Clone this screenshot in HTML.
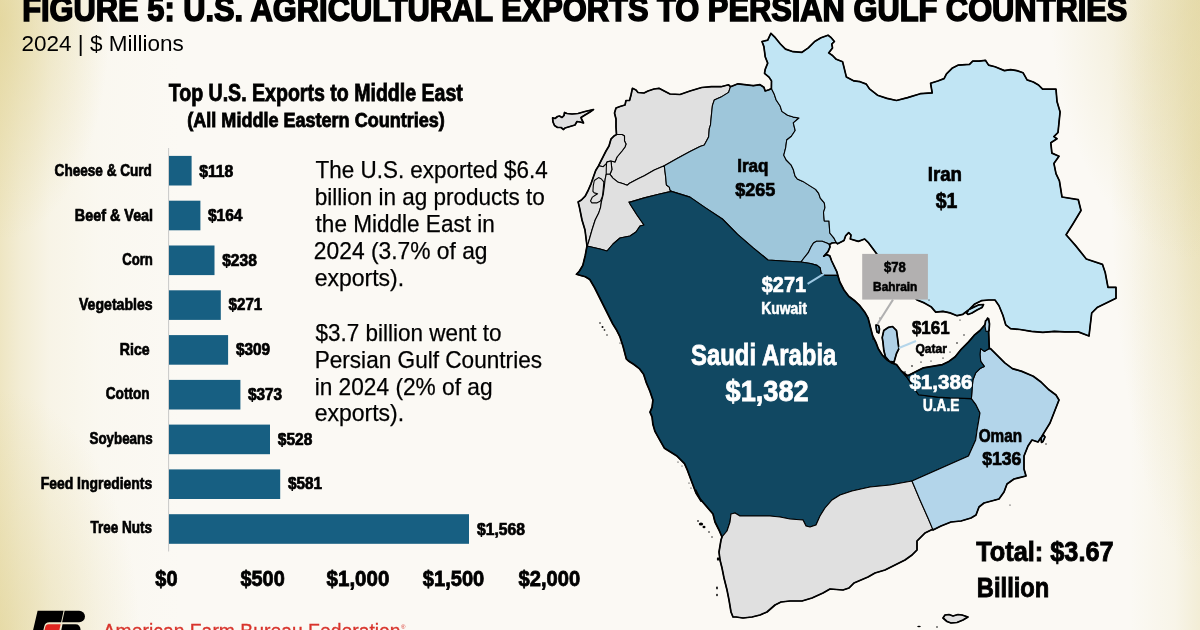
<!DOCTYPE html>
<html><head><meta charset="utf-8"><style>
html,body{margin:0;padding:0;}
body{width:1200px;height:630px;overflow:hidden;position:relative;background:#fbf9f4;font-family:"Liberation Sans",Arial,sans-serif;}
#bg{position:absolute;left:0;top:0;width:1200px;height:630px;
background:
 radial-gradient(ellipse 110px 220px at 0px 20px, rgba(222,207,138,0.6), rgba(222,207,138,0) 100%),
 radial-gradient(ellipse 140px 250px at 0px 640px, rgba(222,207,138,0.5), rgba(222,207,138,0) 100%),
 linear-gradient(to right, rgba(225,210,145,0.5) 0px, rgba(225,210,145,0.32) 20px, rgba(228,215,155,0.15) 50px, rgba(232,220,165,0.05) 100px, rgba(232,220,165,0) 180px),
 radial-gradient(ellipse 150px 260px at 1200px 0px, rgba(222,208,145,0.5), rgba(222,208,145,0) 100%),
 radial-gradient(ellipse 90px 420px at 1200px 150px, rgba(222,208,145,0.45), rgba(222,208,145,0) 100%),
 linear-gradient(to left, rgba(225,212,150,0.32) 0px, rgba(225,212,150,0.12) 25px, rgba(225,212,150,0) 70px),
 #fbf9f4;}
</style></head><body>
<div id="bg"></div>
<svg width="1200" height="630" viewBox="0 0 1200 630" style="position:absolute;left:0;top:0" font-family="Liberation Sans, Arial, sans-serif"><g stroke="#000" stroke-width="1.1" stroke-linejoin="round"><path d="M552.6,117.9 L555.0,118.5 L557.5,116.5 L559.5,116.0 L562.0,117.5 L564.0,115.5 L564.5,112.5 L567.0,113.5 L572.0,114.0 L578.0,113.5 L585.0,111.5 L593.5,109.5 L590.0,112.0 L584.0,115.5 L581.0,117.5 L581.5,119.0 L583.5,123.0 L580.0,122.0 L577.0,121.5 L575.0,125.0 L570.0,126.5 L565.0,128.0 L563.5,129.5 L561.0,127.5 L557.5,127.5 L554.5,125.5 L553.0,122.0 Z" fill="#e0e0e0"/><path d="M632.4,88.3 L636.0,90.0 L638.0,92.5 L644.0,93.0 L648.0,91.0 L654.0,89.0 L659.0,88.3 L666.0,92.0 L670.0,94.0 L680.0,94.5 L690.0,91.0 L701.7,87.5 L711.4,86.7 L721.0,86.7 L728.6,84.8 L730.5,86.7 L728.6,92.4 L721.0,97.1 L714.3,100.0 L712.4,105.7 L711.4,115.2 L710.5,124.8 L709.3,128.6 L708.6,137.1 L704.3,145.0 L700.0,146.4 L690.0,151.4 L677.1,158.6 L664.3,165.7 L654.3,170.0 L644.3,175.7 L638.6,178.6 L635.7,180.0 L630.0,182.9 L627.1,185.2 L623.3,183.8 L617.6,181.9 L612.9,178.1 L610.0,174.3 L611.9,169.5 L611.0,161.0 L615.0,162.0 L617.0,157.0 L622.0,151.0 L625.0,147.0 L626.0,144.0 L624.5,141.0 L624.5,136.0 L622.0,134.5 L616.5,134.5 L616.0,127.0 L616.0,119.0 L614.5,113.0 L616.0,108.0 L620.0,106.5 L625.0,105.0 L626.0,100.5 L629.5,100.5 L630.0,99.0 L631.0,95.0 Z" fill="#e0e0e0"/><path d="M616.5,134.5 L622.0,134.5 L624.5,136.0 L624.5,141.0 L626.0,144.0 L625.0,147.0 L622.0,151.0 L617.0,157.0 L615.0,162.0 L611.0,161.0 L607.1,161.9 L606.2,163.8 L603.3,166.7 L598.6,165.7 L601.4,160.0 L603.0,157.0 L606.0,151.0 L609.0,146.0 L611.0,139.0 L614.0,136.0 Z" fill="#e0e0e0"/><path d="M598.6,165.7 L603.3,166.7 L606.2,163.8 L607.1,161.9 L611.0,161.0 L611.9,169.5 L610.0,174.3 L606.2,174.3 L605.2,179.0 L604.3,186.7 L603.3,194.3 L601.4,201.9 L600.5,207.6 L598.6,213.3 L596.7,217.1 L595.2,220.0 L592.0,230.0 L588.0,244.0 L587.0,246.0 L585.0,230.0 L582.0,220.0 L581.4,217.1 L579.5,207.6 L578.1,201.9 L581.4,200.0 L585.2,196.2 L588.1,190.5 L591.0,183.8 L593.3,177.1 L595.7,170.5 Z" fill="#e0e0e0"/><path d="M610.0,174.3 L612.9,178.1 L617.6,181.9 L623.3,183.8 L627.1,185.2 L630.0,182.9 L635.7,180.0 L638.6,178.6 L644.3,175.7 L654.3,170.0 L664.3,165.7 L665.7,177.1 L666.4,185.0 L669.3,187.1 L670.0,190.0 L671.4,191.4 L658.6,194.3 L644.3,197.9 L630.0,202.1 L629.0,202.0 L630.0,204.0 L637.0,215.0 L644.0,225.0 L640.0,226.0 L636.0,232.0 L630.0,236.0 L620.0,238.0 L613.0,244.0 L607.0,251.0 L600.0,249.0 L587.0,246.0 L588.0,244.0 L592.0,230.0 L595.2,220.0 L596.7,217.1 L598.6,213.3 L600.5,207.6 L601.4,201.9 L603.3,194.3 L604.3,186.7 L605.2,179.0 L606.2,174.3 Z" fill="#e0e0e0"/><path d="M594.3,180.5 L598.6,177.6 L601.4,179.0 L603.8,181.9 L603.3,188.6 L602.4,196.2 L600.5,201.0 L596.7,202.9 L591.9,202.9 L590.5,201.0 L592.4,197.1 L595.2,195.2 L597.6,193.8 L594.3,192.9 L592.9,191.4 L593.3,185.7 Z" fill="#e0e0e0"/><path d="M730.5,86.7 L738.0,83.8 L745.7,84.8 L753.3,85.7 L760.0,84.7 L763.9,87.2 L765.2,91.0 L769.0,89.7 L771.4,88.6 L774.3,94.3 L776.2,100.0 L780.0,105.7 L781.9,111.4 L787.6,115.2 L793.3,117.1 L799.0,118.0 L793.3,122.9 L795.2,130.5 L791.4,136.2 L786.7,140.0 L785.7,147.6 L783.8,155.2 L786.2,160.0 L791.0,164.8 L793.3,169.5 L795.0,175.9 L797.3,179.0 L802.9,181.4 L809.2,185.4 L815.6,189.4 L818.7,193.3 L820.3,198.1 L824.3,202.9 L825.0,207.6 L823.5,212.4 L824.3,221.0 L829.0,221.0 L829.8,233.0 L833.8,237.8 L836.2,242.5 L832.0,243.0 L829.5,244.5 L827.3,243.2 L822.2,241.3 L816.5,241.3 L813.5,243.0 L811.0,247.0 L808.3,252.7 L804.0,258.0 L801.0,262.0 L783.3,261.0 L768.0,260.0 L752.9,247.6 L737.6,234.3 L722.4,219.0 L705.2,207.6 L690.0,197.1 L671.4,191.4 L670.0,190.0 L669.3,187.1 L666.4,185.0 L665.7,177.1 L664.3,165.7 L677.1,158.6 L690.0,151.4 L700.0,146.4 L704.3,145.0 L708.6,137.1 L709.3,128.6 L710.5,124.8 L711.4,115.2 L712.4,105.7 L714.3,100.0 L721.0,97.1 L728.6,92.4 Z" fill="#9ec6da"/><path d="M801.0,262.0 L804.0,258.0 L808.3,252.7 L811.0,247.0 L813.5,243.0 L816.5,241.3 L822.2,241.3 L827.3,243.2 L829.5,244.5 L830.0,247.0 L828.0,251.7 L823.5,256.5 L826.7,254.6 L829.8,255.9 L831.7,261.0 L834.3,266.7 L836.8,271.7 L837.8,275.4 L825.4,275.4 L821.0,273.0 L820.3,268.0 L817.1,265.4 L810.6,263.5 Z" fill="#a6cde3"/><path d="M762.0,41.5 L767.7,40.2 L770.9,33.3 L775.3,37.7 L780.4,44.0 L785.5,49.1 L793.1,51.7 L802.0,52.3 L808.3,47.9 L814.7,41.5 L821.0,37.7 L828.0,35.2 L831.2,37.7 L834.4,41.5 L831.8,44.0 L832.5,47.9 L828.7,52.9 L832.5,55.5 L836.3,59.3 L842.6,61.8 L843.9,66.9 L846.4,77.1 L854.0,80.9 L860.0,81.7 L866.3,84.1 L869.5,88.9 L877.5,95.2 L887.0,98.4 L896.5,100.5 L907.6,97.6 L920.3,93.7 L932.2,92.9 L930.6,83.3 L937.8,81.0 L944.1,78.6 L946.5,73.8 L952.0,68.3 L958.4,65.1 L969.5,64.3 L972.7,61.1 L979.0,61.1 L985.4,60.3 L988.6,65.1 L995.0,66.7 L1004.4,70.6 L1010.6,69.6 L1016.8,70.6 L1023.0,72.7 L1027.1,79.9 L1033.3,82.0 L1038.5,85.0 L1042.6,89.2 L1056.0,89.2 L1057.0,101.5 L1060.1,111.9 L1059.0,122.2 L1058.0,132.5 L1053.9,136.6 L1057.0,138.7 L1050.8,142.8 L1051.9,153.1 L1059.0,156.2 L1053.9,163.4 L1056.0,173.7 L1059.4,180.8 L1062.0,197.0 L1078.3,199.7 L1081.0,210.5 L1072.9,224.0 L1066.1,234.8 L1075.6,245.6 L1086.3,259.0 L1102.5,264.4 L1105.2,272.5 L1108.0,287.4 L1116.0,287.4 L1116.0,298.2 L1108.0,302.2 L1097.1,307.6 L1091.7,313.0 L1090.4,323.8 L1089.0,336.0 L1078.3,331.9 L1064.8,331.9 L1054.3,331.4 L1042.9,332.4 L1031.4,331.4 L1020.0,329.5 L1010.5,328.6 L1005.7,324.8 L1002.9,315.2 L999.0,305.7 L995.0,300.0 L988.6,300.0 L981.4,300.7 L974.3,304.3 L968.6,310.0 L962.9,314.3 L957.1,315.7 L950.0,312.9 L942.9,311.4 L935.7,312.1 L931.4,307.1 L924.3,302.9 L917.1,300.0 L910.0,293.0 L900.0,280.0 L885.0,265.0 L876.4,253.6 L872.9,248.6 L868.6,242.9 L864.6,239.0 L858.3,241.4 L850.3,239.0 L851.0,235.0 L848.7,232.7 L845.6,235.9 L844.0,240.6 L837.6,243.8 L836.2,242.5 L833.8,237.8 L829.8,233.0 L829.0,221.0 L824.3,221.0 L823.5,212.4 L825.0,207.6 L824.3,202.9 L820.3,198.1 L818.7,193.3 L815.6,189.4 L809.2,185.4 L802.9,181.4 L797.3,179.0 L795.0,175.9 L793.3,169.5 L791.0,164.8 L786.2,160.0 L783.8,155.2 L785.7,147.6 L786.7,140.0 L791.4,136.2 L795.2,130.5 L793.3,122.9 L799.0,118.0 L793.3,117.1 L787.6,115.2 L781.9,111.4 L780.0,105.7 L776.2,100.0 L774.3,94.3 L771.4,88.6 L771.5,80.9 L769.0,77.1 L764.5,73.3 L765.2,69.4 L767.7,63.1 L765.2,56.7 L763.9,46.6 Z" fill="#c1e5f4"/><path d="M629.0,202.0 L630.0,202.1 L644.3,197.9 L658.6,194.3 L671.4,191.4 L690.0,197.1 L705.2,207.6 L722.4,219.0 L737.6,234.3 L752.9,247.6 L768.0,260.0 L783.3,261.0 L801.0,262.0 L810.6,263.5 L817.1,265.4 L820.3,268.0 L821.0,273.0 L825.4,275.4 L837.8,275.4 L839.8,282.0 L844.0,290.0 L848.7,296.2 L855.0,301.0 L859.8,305.7 L864.8,312.2 L868.0,317.8 L869.5,323.3 L871.0,329.7 L872.7,336.0 L875.9,342.4 L878.3,348.7 L882.2,355.0 L887.0,359.8 L891.7,363.0 L896.5,364.6 L901.3,371.0 L907.5,378.1 L913.8,387.6 L918.6,394.8 L937.6,397.1 L950.0,397.9 L971.4,398.6 L975.7,404.3 L980.0,412.9 L978.6,421.4 L977.1,430.0 L975.7,440.0 L968.5,456.0 L912.0,481.0 L890.0,485.0 L870.0,487.0 L852.0,491.0 L840.0,495.0 L832.0,500.0 L825.0,508.0 L820.0,516.0 L816.0,525.0 L810.0,527.0 L806.0,526.0 L803.0,520.0 L790.0,519.0 L780.0,517.0 L770.0,516.0 L750.0,516.0 L740.0,516.0 L735.0,513.0 L731.0,514.0 L730.0,522.0 L727.0,531.0 L722.0,537.0 L719.0,530.0 L715.0,522.0 L713.0,514.0 L707.0,507.0 L701.0,500.0 L696.0,490.0 L701.0,501.0 L696.0,493.0 L693.1,485.5 L690.2,477.9 L687.4,470.2 L684.5,463.6 L680.7,459.8 L676.9,456.0 L670.2,451.7 L664.5,448.3 L660.7,441.7 L656.9,435.0 L655.0,431.4 L652.9,424.3 L652.1,417.1 L650.0,412.1 L652.1,407.1 L652.9,400.0 L650.0,391.4 L646.4,382.9 L643.6,374.3 L639.3,368.6 L633.6,364.3 L628.5,361.0 L626.3,358.9 L623.0,346.2 L619.9,336.7 L616.7,330.3 L612.8,324.0 L608.8,316.0 L604.0,306.5 L599.3,297.0 L594.5,287.5 L589.8,279.5 L585.3,276.8 L580.2,275.5 L576.4,274.3 L579.0,271.7 L582.8,265.4 L585.3,255.2 L587.0,246.0 L600.0,249.0 L607.0,251.0 L613.0,244.0 L620.0,238.0 L630.0,236.0 L636.0,232.0 L640.0,226.0 L644.0,225.0 L637.0,215.0 L630.0,204.0 Z" fill="#114862"/><path d="M722.0,537.0 L727.0,531.0 L730.0,522.0 L731.0,514.0 L735.0,513.0 L740.0,516.0 L750.0,516.0 L770.0,516.0 L780.0,517.0 L790.0,519.0 L803.0,520.0 L806.0,526.0 L810.0,527.0 L816.0,525.0 L820.0,516.0 L825.0,508.0 L832.0,500.0 L840.0,495.0 L852.0,491.0 L870.0,487.0 L890.0,485.0 L912.0,481.0 L920.0,500.0 L928.0,518.0 L933.0,529.0 L925.0,533.0 L917.0,541.0 L917.0,550.0 L912.0,555.0 L905.0,560.0 L895.0,565.0 L885.0,570.0 L875.0,573.0 L868.0,577.0 L854.0,583.0 L849.0,588.0 L843.0,590.0 L830.0,589.0 L823.0,593.0 L812.0,598.0 L802.0,601.0 L790.0,601.0 L781.0,602.0 L775.0,605.0 L767.0,612.0 L760.0,615.0 L752.0,617.0 L743.0,618.0 L736.0,617.0 L733.0,617.0 L731.0,612.0 L729.0,600.0 L727.0,590.0 L724.0,578.0 L722.0,568.0 L720.0,560.0 L719.0,552.0 L721.0,540.0 Z" fill="#e0e0e0"/><path d="M971.4,398.6 L972.1,388.6 L972.9,380.0 L975.7,372.9 L980.0,368.6 L984.3,366.4 L980.7,361.4 L980.0,354.3 L980.7,348.6 L984.3,351.4 L989.3,348.6 L990.5,348.6 L997.0,355.2 L1004.8,362.9 L1012.4,368.6 L1021.9,371.4 L1033.3,376.2 L1041.0,382.0 L1048.6,389.5 L1056.0,395.0 L1059.0,400.0 L1057.0,405.0 L1050.0,423.0 L1042.0,436.0 L1038.0,442.0 L1032.0,440.0 L1028.0,446.0 L1024.0,456.0 L1024.0,469.0 L1026.0,476.0 L1014.0,479.0 L1007.0,484.0 L1004.0,492.0 L999.0,499.0 L984.0,503.0 L979.0,507.0 L976.0,515.0 L971.0,518.0 L961.0,521.0 L951.0,522.0 L941.0,526.0 L933.0,530.0 L928.0,518.0 L920.0,500.0 L912.0,481.0 L968.5,456.0 L975.7,440.0 L977.1,430.0 L978.6,421.4 L980.0,412.9 L975.7,404.3 Z" fill="#b3d5ea"/><path d="M901.3,371.0 L907.6,375.7 L914.0,372.5 L923.5,367.8 L933.0,366.2 L942.5,364.6 L948.9,361.4 L955.2,356.7 L961.0,349.5 L968.6,341.9 L974.3,335.2 L980.0,330.5 L984.8,324.8 L987.6,318.0 L988.6,330.5 L989.3,348.6 L984.3,351.4 L980.7,348.6 L980.0,354.3 L980.7,361.4 L984.3,366.4 L980.0,368.6 L975.7,372.9 L972.9,380.0 L972.1,388.6 L971.4,398.6 L950.0,397.9 L937.6,397.1 L918.6,394.8 L913.8,387.6 L907.5,378.1 Z" fill="#114862"/><path d="M985.5,321.0 L988.5,318.5 L989.5,324.0 L989.0,331.0 L986.0,331.5 L985.0,326.0 Z" fill="#b3d5ea"/><path d="M883.8,330.5 L888.6,327.3 L892.5,326.5 L896.5,330.5 L897.3,336.0 L898.0,342.4 L898.9,348.7 L896.5,353.5 L895.0,358.3 L894.0,362.2 L889.4,361.4 L885.4,356.7 L883.8,350.3 L883.0,342.4 L882.2,337.6 Z" fill="#b0d1e7"/><path d="M876.0,325.0 L878.5,325.5 L879.5,329.0 L878.8,333.0 L877.0,332.0 L876.3,328.5 Z" fill="#b0d1e7"/><path d="M966.5,313.0 L969.0,309.5 L974.0,307.0 L979.0,304.8 L983.5,304.5 L982.0,307.5 L977.0,310.0 L972.0,313.0 L968.0,314.5 Z" fill="#c1e5f4"/><path d="M943.0,618.0 L945.0,615.0 L949.0,614.5 L953.0,616.0 L958.0,614.5 L962.0,615.0 L968.0,617.0 L963.0,620.0 L957.0,622.5 L951.0,623.0 L947.0,621.5 Z" fill="#e0e0e0"/><path d="M1041.0,438.0 L1043.5,435.0 L1045.0,437.0 L1043.0,441.5 L1041.5,442.5 Z" fill="#b3d5ea"/></g><path d="M587.0,246.0 L585.3,255.2 L582.8,265.4 L579.0,271.7 L576.4,274.3 L585.3,276.8 L589.8,279.5 L594.5,287.5 L612.8,324.0 L616.7,330.3 L619.9,336.7 L623.0,346.2 L626.3,358.9 L628.5,361.0 L633.6,364.3 L639.3,368.6 L643.6,374.3 L646.4,382.9 L650.0,391.4 L652.9,400.0 L652.1,407.1 L650.0,412.1 L652.1,417.1 L652.9,424.3 L655.0,431.4 L660.7,441.7 L664.5,448.3 L676.9,456.0 L684.5,463.6 L687.4,470.2 L696.0,493.0 L701.0,501.0 L700.3,499.6 L700.5,499.4 L713.0,514.0 L715.0,522.0 L719.0,530.0 L722.0,537.0 L721.0,540.0 L719.0,552.0 L720.0,560.0 L722.0,568.0 L724.0,578.0 L727.0,590.0 L729.0,600.0 L731.0,612.0 L733.0,617.0 L736.0,617.0 L743.0,618.0 L752.0,617.0 L760.0,615.0 L767.0,612.0 L775.0,605.0 L781.0,602.0 L790.0,601.0 L802.0,601.0 L812.0,598.0 L823.0,593.0 L830.0,589.0 L843.0,590.0 L849.0,588.0 L854.0,583.0 L868.0,577.0 L875.0,573.0 L885.0,570.0 L905.0,560.0 L912.0,555.0 L917.0,550.0 L917.0,541.0 L925.0,533.0 L932.7,529.2 L933.0,530.0 L941.0,526.0 L951.0,522.0 L961.0,521.0 L971.0,518.0 L976.0,515.0 L979.0,507.0 L984.0,503.0 L999.0,499.0 L1004.0,492.0 L1007.0,484.0 L1014.0,479.0 L1026.0,476.0 L1024.0,469.0 L1024.0,456.0 L1028.0,446.0 L1032.0,440.0 L1038.0,442.0 L1041.0,437.6 L1041.5,442.5 L1043.0,441.5 L1045.0,437.0 L1043.5,435.0 L1042.1,436.6 L1041.8,436.4 L1050.0,423.0 L1059.0,400.0 L1056.0,395.0 L1048.6,389.5 L1041.0,382.0 L1033.3,376.2 L1021.9,371.4 L1012.4,368.6 L1004.8,362.9 L990.5,348.6 L989.3,348.6 L988.6,331.1 L989.0,331.0 L989.5,324.0 L988.5,318.5 L987.7,319.2 L987.6,318.0 L986.8,319.9 L985.5,321.0 L985.2,323.8 L984.8,324.8 L980.0,330.5 L974.3,335.2 L968.6,341.9 L961.0,349.5 L955.2,356.7 L948.9,361.4 L942.5,364.6 L923.5,367.8 L907.6,375.7 L901.3,371.0 L896.5,364.6 L891.7,363.0 L889.3,361.4 L894.0,362.2 L896.5,353.5 L898.9,348.7 L896.5,330.5 L892.5,326.5 L888.6,327.3 L883.8,330.5 L882.2,337.6 L883.0,342.4 L883.8,350.3 L885.4,356.7 L888.9,360.8 L888.7,361.0 L887.0,359.8 L882.2,355.0 L878.3,348.7 L875.9,342.4 L872.7,336.0 L868.0,317.8 L864.8,312.2 L859.8,305.7 L855.0,301.0 L848.7,296.2 L844.0,290.0 L839.8,282.0 L836.8,271.7 L831.7,261.0 L829.8,255.9 L826.7,254.6 L824.1,256.1 L824.0,256.0 L828.0,251.7 L830.0,247.0 L829.5,244.5 L832.0,243.0 L836.2,242.5 L837.6,243.8 L844.0,240.6 L845.6,235.9 L848.7,232.7 L851.0,235.0 L850.3,239.0 L858.3,241.4 L864.6,239.0 L868.6,242.9 L885.0,265.0 L900.0,280.0 L910.0,293.0 L917.1,300.0 L924.3,302.9 L931.4,307.1 L935.7,312.1 L942.9,311.4 L950.0,312.9 L957.1,315.7 L962.9,314.3 L968.2,310.3 L968.4,310.4 L966.5,313.0 L968.0,314.5 L972.0,313.0 L977.0,310.0 L982.0,307.5 L983.5,304.5 L979.0,304.8 L969.6,309.2 L974.3,304.3 L981.4,300.7 L988.6,300.0 L995.0,300.0 L999.0,305.7 L1002.9,315.2 L1005.7,324.8 L1010.5,328.6 L1020.0,329.5 L1031.4,331.4 L1042.9,332.4 L1054.3,331.4 L1064.8,331.9 L1078.3,331.9 L1089.0,336.0 L1091.7,313.0 L1097.1,307.6 L1116.0,298.2 L1116.0,287.4 L1108.0,287.4 L1105.2,272.5 L1102.5,264.4 L1086.3,259.0 L1075.6,245.6 L1066.1,234.8 L1072.9,224.0 L1081.0,210.5 L1078.3,199.7 L1062.0,197.0 L1059.4,180.8 L1056.0,173.7 L1053.9,163.4 L1059.0,156.2 L1051.9,153.1 L1050.8,142.8 L1057.0,138.7 L1053.9,136.6 L1058.0,132.5 L1060.1,111.9 L1057.0,101.5 L1056.0,89.2 L1042.6,89.2 L1038.5,85.0 L1033.3,82.0 L1027.1,79.9 L1023.0,72.7 L1016.8,70.6 L1010.6,69.6 L1004.4,70.6 L995.0,66.7 L988.6,65.1 L985.4,60.3 L979.0,61.1 L972.7,61.1 L969.5,64.3 L958.4,65.1 L952.0,68.3 L946.5,73.8 L944.1,78.6 L937.8,81.0 L930.6,83.3 L932.2,92.9 L920.3,93.7 L907.6,97.6 L896.5,100.5 L887.0,98.4 L877.5,95.2 L869.5,88.9 L866.3,84.1 L860.0,81.7 L854.0,80.9 L846.4,77.1 L842.6,61.8 L836.3,59.3 L832.5,55.5 L828.7,52.9 L832.5,47.9 L831.8,44.0 L834.4,41.5 L831.2,37.7 L828.0,35.2 L821.0,37.7 L814.7,41.5 L808.3,47.9 L802.0,52.3 L793.1,51.7 L785.5,49.1 L780.4,44.0 L775.3,37.7 L770.9,33.3 L767.7,40.2 L762.0,41.5 L763.9,46.6 L765.2,56.7 L767.7,63.1 L765.2,69.4 L764.5,73.3 L769.0,77.1 L771.5,80.9 L771.4,88.6 L769.0,89.7 L765.2,91.0 L763.9,87.2 L760.0,84.7 L753.3,85.7 L738.0,83.8 L730.5,86.7 L728.6,84.8 L721.0,86.7 L711.4,86.7 L701.7,87.5 L690.0,91.0 L680.0,94.5 L670.0,94.0 L659.0,88.3 L654.0,89.0 L648.0,91.0 L644.0,93.0 L638.0,92.5 L636.0,90.0 L632.4,88.3 L631.0,95.0 L629.5,100.5 L626.0,100.5 L625.0,105.0 L620.0,106.5 L616.0,108.0 L614.5,113.0 L616.0,119.0 L616.0,127.0 L616.5,134.5 L614.0,136.0 L611.0,139.0 L609.0,146.0 L606.0,151.0 L598.6,165.7 L595.7,170.5 L591.0,183.8 L588.1,190.5 L585.2,196.2 L581.4,200.0 L578.1,201.9 L579.5,207.6 L582.0,220.0 L585.0,230.0 L587.0,246.0 Z M968.0,617.0 L962.0,615.0 L958.0,614.5 L953.0,616.0 L949.0,614.5 L945.0,615.0 L943.0,618.0 L947.0,621.5 L951.0,623.0 L957.0,622.5 L963.0,620.0 L968.0,617.0 Z M878.5,325.5 L876.0,325.0 L876.3,328.5 L877.0,332.0 L878.8,333.0 L879.5,329.0 L878.5,325.5 Z M561.0,127.5 L563.5,129.5 L565.0,128.0 L575.0,125.0 L577.0,121.5 L580.0,122.0 L583.5,123.0 L581.5,119.0 L581.0,117.5 L590.0,112.0 L593.5,109.5 L585.0,111.5 L578.0,113.5 L572.0,114.0 L567.0,113.5 L564.5,112.5 L564.0,115.5 L562.0,117.5 L559.5,116.0 L557.5,116.5 L555.0,118.5 L552.6,117.9 L553.0,122.0 L554.5,125.5 L557.5,127.5 L561.0,127.5 Z" fill="none" stroke="#000" stroke-width="1.7" stroke-linejoin="round"/><ellipse cx="701" cy="524" rx="2.2" ry="1.6" fill="#000"/><ellipse cx="704" cy="527" rx="1.5" ry="1.2" fill="#000"/><ellipse cx="698" cy="521" rx="1" ry="0.8" fill="#000"/><ellipse cx="709" cy="532" rx="0.8" ry="0.8" fill="#000"/><ellipse cx="712" cy="537" rx="0.7" ry="0.7" fill="#000"/><ellipse cx="718" cy="559" rx="1.2" ry="1.8" fill="#000"/><ellipse cx="717" cy="588" rx="0.9" ry="1.4" fill="#000"/><ellipse cx="717" cy="595" rx="0.8" ry="1.2" fill="#000"/><ellipse cx="691" cy="488" rx="0.6" ry="0.6" fill="#000"/><ellipse cx="689" cy="483" rx="0.6" ry="0.6" fill="#000"/><ellipse cx="905" cy="372" rx="0.8" ry="0.8" fill="#000"/><ellipse cx="912" cy="366" rx="0.9" ry="0.7" fill="#000"/><ellipse cx="921" cy="362" rx="0.8" ry="0.6" fill="#000"/><ellipse cx="931" cy="361" rx="0.7" ry="0.6" fill="#000"/><ellipse cx="943" cy="358" rx="0.8" ry="0.6" fill="#000"/><ellipse cx="950" cy="352" rx="0.7" ry="0.6" fill="#000"/><ellipse cx="957" cy="343" rx="0.8" ry="0.7" fill="#000"/><ellipse cx="964" cy="335" rx="0.7" ry="0.7" fill="#000"/><ellipse cx="873" cy="339" rx="0.8" ry="0.8" fill="#000"/><ellipse cx="880" cy="318" rx="0.6" ry="0.6" fill="#000"/><ellipse cx="960" cy="320" rx="0.7" ry="0.6" fill="#000"/><ellipse cx="929" cy="300" rx="0.7" ry="0.6" fill="#000"/><ellipse cx="1046" cy="444" rx="0.7" ry="0.7" fill="#000"/><ellipse cx="1010" cy="505" rx="0.6" ry="0.6" fill="#000"/><ellipse cx="995" cy="500" rx="0.7" ry="0.6" fill="#000"/><ellipse cx="919" cy="626.5" rx="1.8" ry="0.7" fill="#000"/><ellipse cx="937" cy="627" rx="0.8" ry="0.7" fill="#000"/><ellipse cx="600" cy="323" rx="0.8" ry="0.8" fill="#000"/><ellipse cx="602.5" cy="327" rx="1" ry="0.9" fill="#000"/><ellipse cx="604.5" cy="330" rx="0.9" ry="0.8" fill="#000"/><ellipse cx="607" cy="335" rx="0.7" ry="0.7" fill="#000"/><ellipse cx="620" cy="343" rx="0.6" ry="0.6" fill="#000"/><ellipse cx="678" cy="462" rx="0.6" ry="0.6" fill="#000"/><ellipse cx="682" cy="466" rx="0.5" ry="0.5" fill="#000"/><polyline points="606.6,162.3 606.3,168 606.2,174.3" fill="none" stroke="#000" stroke-width="1.1"/><line x1="807.6" y1="283.8" x2="824.2" y2="273.7" stroke="#9fc9e4" stroke-width="2"/><line x1="898.9" y1="348" x2="916" y2="341" stroke="#b5d6ea" stroke-width="2"/><line x1="893" y1="299.6" x2="877.5" y2="324" stroke="#b0b0b0" stroke-width="2"/><rect x="862.2" y="253.9" width="65.7" height="45.7" fill="#b2b0b0"/><line x1="168.6" y1="148" x2="168.6" y2="551.5" stroke="#c8c8c8" stroke-width="1"/><rect x="169" y="155.9" width="22.6" height="29.6" fill="#175f82"/><rect x="169" y="200.7" width="31.4" height="29.6" fill="#175f82"/><rect x="169" y="245.5" width="45.5" height="29.6" fill="#175f82"/><rect x="169" y="290.3" width="51.8" height="29.6" fill="#175f82"/><rect x="169" y="335.1" width="59.1" height="29.6" fill="#175f82"/><rect x="169" y="379.9" width="71.4" height="29.6" fill="#175f82"/><rect x="169" y="424.6" width="101.0" height="29.6" fill="#175f82"/><rect x="169" y="469.4" width="111.2" height="29.6" fill="#175f82"/><rect x="169" y="514.2" width="300.0" height="29.6" fill="#175f82"/><text x="22.22" y="20.5" font-size="34.5" font-weight="bold" fill="#000" stroke="#000" stroke-width="1.6" textLength="1105.19" lengthAdjust="spacingAndGlyphs">FIGURE 5: U.S. AGRICULTURAL EXPORTS TO PERSIAN GULF COUNTRIES</text><text x="21.52" y="50.5" font-size="22.97" fill="#000" textLength="162.25" lengthAdjust="spacingAndGlyphs">2024 | $ Millions</text><text x="168.7" y="101.3" font-size="23.26" font-weight="bold" fill="#000" stroke="#000" stroke-width="0.8" textLength="294.18" lengthAdjust="spacingAndGlyphs">Top U.S. Exports to Middle East</text><text x="187.3" y="127.3" font-size="19.33" font-weight="bold" fill="#000" stroke="#000" stroke-width="0.8" textLength="257.51" lengthAdjust="spacingAndGlyphs">(All Middle Eastern Countries)</text><text x="54.6" y="175.6" font-size="16.57" font-weight="bold" fill="#000" stroke="#000" stroke-width="0.7" textLength="97.3" lengthAdjust="spacingAndGlyphs">Cheese &amp; Curd</text><text x="74.83" y="220.6" font-size="16.57" font-weight="bold" fill="#000" stroke="#000" stroke-width="0.7" textLength="78.29" lengthAdjust="spacingAndGlyphs">Beef &amp; Veal</text><text x="122.2" y="265.4" font-size="16.57" font-weight="bold" fill="#000" stroke="#000" stroke-width="0.7" textLength="30.69" lengthAdjust="spacingAndGlyphs">Corn</text><text x="79.0" y="309.6" font-size="16.28" font-weight="bold" fill="#000" stroke="#000" stroke-width="0.7" textLength="73.64" lengthAdjust="spacingAndGlyphs">Vegetables</text><text x="119.85" y="354.7" font-size="16.57" font-weight="bold" fill="#000" stroke="#000" stroke-width="0.7" textLength="29.83" lengthAdjust="spacingAndGlyphs">Rice</text><text x="105.7" y="399.2" font-size="16.72" font-weight="bold" fill="#000" stroke="#000" stroke-width="0.7" textLength="43.97" lengthAdjust="spacingAndGlyphs">Cotton</text><text x="89.5" y="444.4" font-size="16.28" font-weight="bold" fill="#000" stroke="#000" stroke-width="0.7" textLength="63.14" lengthAdjust="spacingAndGlyphs">Soybeans</text><text x="40.66" y="488.7" font-size="16.57" font-weight="bold" fill="#000" stroke="#000" stroke-width="0.7" textLength="111.52" lengthAdjust="spacingAndGlyphs">Feed Ingredients</text><text x="90.5" y="533.1" font-size="16.42" font-weight="bold" fill="#000" stroke="#000" stroke-width="0.7" textLength="61.6" lengthAdjust="spacingAndGlyphs">Tree Nuts</text><text x="199.2" y="176.5" font-size="16.13" font-weight="bold" fill="#000" stroke="#000" stroke-width="0.7" textLength="34.07" lengthAdjust="spacingAndGlyphs">$118</text><text x="207.9" y="221.3" font-size="16.13" font-weight="bold" fill="#000" stroke="#000" stroke-width="0.7" textLength="34.57" lengthAdjust="spacingAndGlyphs">$164</text><text x="222.2" y="266.0" font-size="16.13" font-weight="bold" fill="#000" stroke="#000" stroke-width="0.7" textLength="34.67" lengthAdjust="spacingAndGlyphs">$238</text><text x="228.6" y="310.4" font-size="16.13" font-weight="bold" fill="#000" stroke="#000" stroke-width="0.7" textLength="33.57" lengthAdjust="spacingAndGlyphs">$271</text><text x="235.9" y="354.7" font-size="16.13" font-weight="bold" fill="#000" stroke="#000" stroke-width="0.7" textLength="34.17" lengthAdjust="spacingAndGlyphs">$309</text><text x="247.9" y="399.8" font-size="16.13" font-weight="bold" fill="#000" stroke="#000" stroke-width="0.7" textLength="34.27" lengthAdjust="spacingAndGlyphs">$373</text><text x="277.8" y="444.8" font-size="16.13" font-weight="bold" fill="#000" stroke="#000" stroke-width="0.7" textLength="34.47" lengthAdjust="spacingAndGlyphs">$528</text><text x="287.9" y="489.2" font-size="16.13" font-weight="bold" fill="#000" stroke="#000" stroke-width="0.7" textLength="34.07" lengthAdjust="spacingAndGlyphs">$581</text><text x="477.0" y="534.7" font-size="16.13" font-weight="bold" fill="#000" stroke="#000" stroke-width="0.7" textLength="47.97" lengthAdjust="spacingAndGlyphs">$1,568</text><text x="155.3" y="586.2" font-size="22.24" font-weight="bold" fill="#000" stroke="#000" stroke-width="0.8" textLength="22.22" lengthAdjust="spacingAndGlyphs">$0</text><text x="240.4" y="586.2" font-size="22.24" font-weight="bold" fill="#000" stroke="#000" stroke-width="0.8" textLength="44.32" lengthAdjust="spacingAndGlyphs">$500</text><text x="326.6" y="586.2" font-size="22.24" font-weight="bold" fill="#000" stroke="#000" stroke-width="0.8" textLength="62.73" lengthAdjust="spacingAndGlyphs">$1,000</text><text x="422.8" y="586.2" font-size="22.24" font-weight="bold" fill="#000" stroke="#000" stroke-width="0.8" textLength="61.52" lengthAdjust="spacingAndGlyphs">$1,500</text><text x="518.5" y="586.2" font-size="22.24" font-weight="bold" fill="#000" stroke="#000" stroke-width="0.8" textLength="61.62" lengthAdjust="spacingAndGlyphs">$2,000</text><text x="315.6" y="177.5" font-size="23.62" fill="#000" stroke="#000" stroke-width="0.25" textLength="232.02" lengthAdjust="spacingAndGlyphs">The U.S. exported $6.4</text><text x="314.66" y="204.75" font-size="24" fill="#000" stroke="#000" stroke-width="0.25" textLength="230.16" lengthAdjust="spacingAndGlyphs">billion in ag products to</text><text x="315.6" y="231.5" font-size="23.55" fill="#000" stroke="#000" stroke-width="0.25" textLength="179.19" lengthAdjust="spacingAndGlyphs">the Middle East in</text><text x="313.85" y="258.75" font-size="24" fill="#000" stroke="#000" stroke-width="0.25" textLength="173.68" lengthAdjust="spacingAndGlyphs">2024 (3.7% of ag</text><text x="314.64" y="285.5" font-size="24" fill="#000" stroke="#000" stroke-width="0.25" textLength="89.46" lengthAdjust="spacingAndGlyphs">exports).</text><text x="315.6" y="340.75" font-size="24" fill="#000" stroke="#000" stroke-width="0.25" textLength="185.98" lengthAdjust="spacingAndGlyphs">$3.7 billion went to</text><text x="314.65" y="367.5" font-size="23.69" fill="#000" stroke="#000" stroke-width="0.25" textLength="227.41" lengthAdjust="spacingAndGlyphs">Persian Gulf Countries</text><text x="314.65" y="394.5" font-size="24" fill="#000" stroke="#000" stroke-width="0.25" textLength="177.87" lengthAdjust="spacingAndGlyphs">in 2024 (2% of ag</text><text x="314.64" y="421.0" font-size="24" fill="#000" stroke="#000" stroke-width="0.25" textLength="89.46" lengthAdjust="spacingAndGlyphs">exports).</text><text x="737.19" y="172.4" font-size="18.75" font-weight="bold" fill="#000" stroke="#000" stroke-width="0.7" textLength="31.32" lengthAdjust="spacingAndGlyphs">Iraq</text><text x="735.2" y="196.2" font-size="18.02" font-weight="bold" fill="#000" stroke="#000" stroke-width="0.7" textLength="40.02" lengthAdjust="spacingAndGlyphs">$265</text><text x="927.7" y="180.7" font-size="20.79" font-weight="bold" fill="#000" stroke="#000" stroke-width="0.7" textLength="34.32" lengthAdjust="spacingAndGlyphs">Iran</text><text x="935.7" y="208.3" font-size="22.09" font-weight="bold" fill="#000" stroke="#000" stroke-width="0.7" textLength="21.65" lengthAdjust="spacingAndGlyphs">$1</text><text x="691.0" y="364.7" font-size="30.23" font-weight="bold" fill="#fff" stroke="#fff" stroke-width="0.8" textLength="145.35" lengthAdjust="spacingAndGlyphs">Saudi Arabia</text><text x="725.6" y="400.8" font-size="29.8" font-weight="bold" fill="#fff" stroke="#fff" stroke-width="0.8" textLength="83.11" lengthAdjust="spacingAndGlyphs">$1,382</text><text x="761.8" y="291.6" font-size="21.95" font-weight="bold" fill="#fff" stroke="#fff" stroke-width="0.7" textLength="44.28" lengthAdjust="spacingAndGlyphs">$271</text><text x="761.36" y="313.5" font-size="16.57" font-weight="bold" fill="#fff" stroke="#fff" stroke-width="0.6" textLength="45.43" lengthAdjust="spacingAndGlyphs">Kuwait</text><text x="884.0" y="272.0" font-size="13.81" font-weight="bold" fill="#000" stroke="#000" stroke-width="0.6" textLength="21.79" lengthAdjust="spacingAndGlyphs">$78</text><text x="873.1" y="290.5" font-size="13.08" font-weight="bold" fill="#000" stroke="#000" stroke-width="0.6" textLength="44.29" lengthAdjust="spacingAndGlyphs">Bahrain</text><text x="911.9" y="333.8" font-size="19.04" font-weight="bold" fill="#000" stroke="#000" stroke-width="0.7" textLength="37.73" lengthAdjust="spacingAndGlyphs">$161</text><text x="915.5" y="352.9" font-size="13.37" font-weight="bold" fill="#000" stroke="#000" stroke-width="0.6" textLength="31.48" lengthAdjust="spacingAndGlyphs">Qatar</text><text x="909.4" y="388.8" font-size="20.79" font-weight="bold" fill="#fff" stroke="#fff" stroke-width="0.7" textLength="62.94" lengthAdjust="spacingAndGlyphs">$1,386</text><text x="923.0" y="411.4" font-size="16.13" font-weight="bold" fill="#fff" stroke="#fff" stroke-width="0.6" textLength="36.29" lengthAdjust="spacingAndGlyphs">U.A.E</text><text x="978.7" y="441.8" font-size="18.31" font-weight="bold" fill="#000" stroke="#000" stroke-width="0.7" textLength="43.35" lengthAdjust="spacingAndGlyphs">Oman</text><text x="982.2" y="465.4" font-size="17.73" font-weight="bold" fill="#000" stroke="#000" stroke-width="0.7" textLength="39.16" lengthAdjust="spacingAndGlyphs">$136</text><text x="976.3" y="561.4" font-size="28.2" font-weight="bold" fill="#000" stroke="#000" stroke-width="0.9" textLength="137.31" lengthAdjust="spacingAndGlyphs">Total: $3.67</text><text x="976.85" y="597.3" font-size="27.76" font-weight="bold" fill="#000" stroke="#000" stroke-width="0.9" textLength="72.47" lengthAdjust="spacingAndGlyphs">Billion</text><text x="102.7" y="637.7" font-size="20.35" fill="#d8342c" stroke="#d8342c" stroke-width="0.3" textLength="297.94" lengthAdjust="spacingAndGlyphs">American Farm Bureau Federation</text><g><path d="M37.6,610.7 H63.6 L61.1,622.3 H49.5 Q45.2,622.3 44.2,626.5 L43.4,630 H33.1 Z" fill="#000"/><path d="M48.2,624.2 H60.6 L59.4,630 H44.6 L45.2,627.2 Q45.9,624.2 48.2,624.2 Z" fill="#e0261f"/><path d="M64.6,610.7 H79.2 A5.75,5.75 0 0 1 79.2,622.2 H62.1 Z" fill="#000"/><path d="M62.5,624.2 H75.5 Q80.2,624.2 80.6,630 H61.3 Z" fill="#000"/></g><text x="401" y="628.5" font-size="6" fill="#d8342c">&#174;</text></svg>
</body></html>
